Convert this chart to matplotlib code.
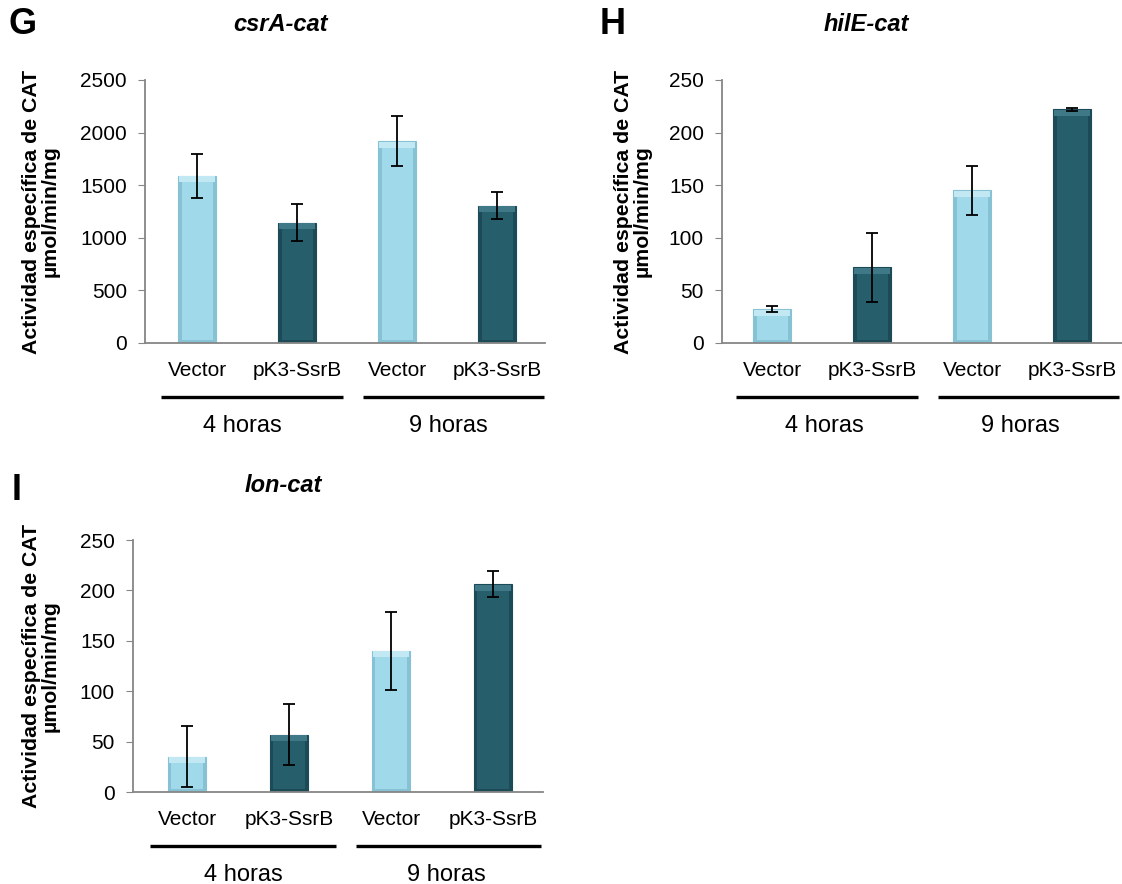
import matplotlib.pyplot as plt
import matplotlib.transforms as mtransforms

plt.rcParams['font.family'] = ['Liberation Sans', 'DejaVu Sans']

categorias = ['Vector', 'pK3-SsrB', 'Vector', 'pK3-SsrB']
grupos = ['4 horas', '9 horas']

csra = [1590, 1145, 1920, 1305]
csra_err = [210, 178, 240, 128]

hile = [32, 72, 145, 222]
hile_err = [3, 33, 23, 1]

lon = [35, 57, 140, 206]
lon_err = [30, 30, 39, 13]

# color principal, borde/bisel lateral, bisel superior
claro = ('#a0d9e9', '#86c2d4', '#c2e9f3')
oscuro = ('#275e6c', '#1c4a56', '#3f7886')
estilos = [claro, oscuro, claro, oscuro]

W, H = 1122, 884
fig = plt.figure(figsize=(W / 100, H / 100), dpi=100)


def panel(px, letra, titulo, valores, errores, ymax, paso, xlim, ylab_x, tit_x,
          centros_grupo):
    x0, x1, ytop, ybot = px
    alto = ybot - ytop
    ax = fig.add_axes([x0 / W, (H - ybot) / H, (x1 - x0) / W, alto / H])
    pos = list(range(len(valores)))
    px_y = ymax / alto  # unidades de datos por pixel

    # barra exterior (bisel lateral)
    ax.bar(pos, valores, width=0.38, color=[e[1] for e in estilos],
           edgecolor=[e[1] for e in estilos], linewidth=0.8, zorder=2)
    # cuerpo
    ax.bar(pos, [v - 9 * px_y for v in valores], width=0.31, bottom=3 * px_y,
           color=[e[0] for e in estilos], linewidth=0, zorder=3)
    # bisel superior
    ax.bar(pos, [6 * px_y] * len(valores), width=0.36,
           bottom=[v - 6.5 * px_y for v in valores],
           color=[e[2] for e in estilos], linewidth=0, zorder=3)

    ax.errorbar(pos, valores, yerr=errores, fmt='none', ecolor='black',
                elinewidth=1.3, capsize=4.5, capthick=1.3, zorder=4)
    ax.set_xlim(*xlim)
    ax.set_ylim(0, ymax)
    ax.set_yticks(range(0, ymax + 1, paso))
    ax.set_xticks(pos)
    ax.set_xticklabels(categorias)
    ax.tick_params(axis='x', length=0, pad=13, labelsize=15)
    ax.tick_params(axis='y', length=5, color='#868686', labelsize=15, pad=8)
    for s in ['top', 'right']:
        ax.spines[s].set_visible(False)
    for s in ['left', 'bottom']:
        ax.spines[s].set_color('#868686')
        ax.spines[s].set_linewidth(1.3)

    tr = mtransforms.blended_transform_factory(ax.transData, ax.transAxes)
    y_linea = -54 / alto
    y_texto = -83 / alto
    for (a, b), g, c in zip([(-0.36, 1.46), (1.66, 3.47)], grupos, centros_grupo):
        ax.plot([a, b], [y_linea, y_linea], color='black', lw=2.4,
                transform=tr, clip_on=False, solid_capstyle='butt')
        ax.text(c, y_texto, g, transform=tr, ha='center',
                va='center', fontsize=17)

    ax.text(tit_x, 1 + 55 / alto, titulo, transform=ax.transAxes, ha='center',
            va='center', fontsize=17, fontweight='bold', fontstyle='italic')
    fig.text(letra[1] / W, 1 - letra[2] / H, letra[0], fontsize=26,
             fontweight='bold', ha='left', va='center')
    fig.text(ylab_x / W, 1 - ((ytop + ybot) / 2) / H,
             'Actividad específica de CAT\nµmol/min/mg', rotation=90,
             ha='center', va='center', fontsize=15.3, fontweight='bold',
             linespacing=1.0)
    return ax


panel((145, 545, 80, 343), ('G', 8, 25), 'csrA-cat', csra, csra_err,
      2500, 500, (-0.52, 3.48), 41, 0.34, (0.45, 2.51))
panel((722, 1122, 80, 343), ('H', 600, 25), 'hilE-cat', hile, hile_err,
      250, 50, (-0.5, 3.5), 633, 0.36, (0.52, 2.48))
panel((133, 543, 540, 792), ('I', 12, 490), 'lon-cat', lon, lon_err,
      250, 50, (-0.53, 3.49), 41, 0.366, (0.55, 2.54))

fig.savefig('out.png', dpi=100)
